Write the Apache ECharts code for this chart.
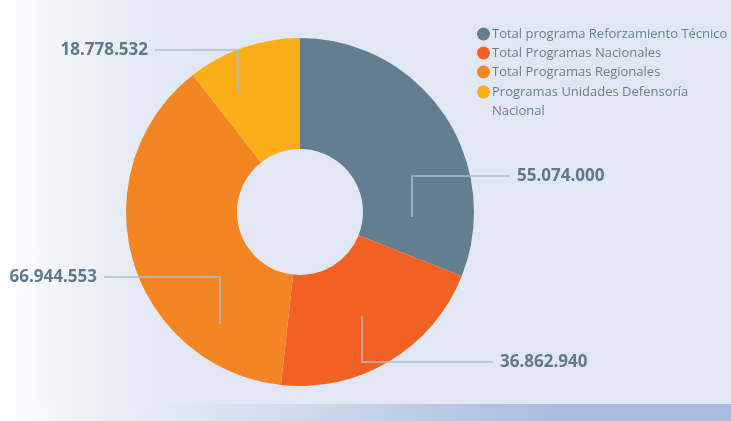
<!DOCTYPE html>
<html>
<head>
<meta charset="utf-8">
<script src="https://cdn.jsdelivr.net/npm/echarts@6/dist/echarts.min.js"></script>
<style>
  html, body { margin: 0; padding: 0; }
  body {
    width: 731px; height: 421px; overflow: hidden; position: relative;
    background: linear-gradient(to right, #ffffff 0px, #f3f6fa 50px, #e6ecf5 130px, #e1e8f3 210px, #e1e8f3 100%);
  }
  #band {
    position: absolute; left: 0; bottom: 0; width: 731px; height: 17px;
    background: linear-gradient(to right, #ffffff 0px, #eef2f8 80px, #d6e0ef 250px, #bccbe6 420px, #a9bde0 560px, #a9bde0 100%);
  }
  #chart { position: absolute; left: 0; top: 0; width: 731px; height: 421px; }
</style>
</head>
<body>
<div id="band"></div>
<div id="chart"></div>
<script>
// Budget distribution by programme group
const categories = [
  'Total programa Reforzamiento Técnico',
  'Total Programas Nacionales',
  'Total Programas Regionales',
  'Programas Unidades Defensoría\nNacional'
];
const values = [55074000, 36862940, 66944553, 18778532];
const valueLabels = ['55.074.000', '36.862.940', '66.944.553', '18.778.532'];
const colors = ['#637e8e', '#f26122', '#f38523', '#f9ae1a'];

// Callout placement for each slice: elbow x, inner y, label y, label edge x
const callouts = [
  { ex: 412, iy: 217, ly: 176, tx: 510, side: 'left' },
  { ex: 362, iy: 316, ly: 362, tx: 493, side: 'left' },
  { ex: 220, iy: 324, ly: 277, tx: 104, side: 'right' },
  { ex: 238, iy: 92,  ly: 50,  tx: 155, side: 'right' }
];

const pieData = categories.map((name, i) => ({ name, value: values[i] }));
const legendText = { fontFamily: 'Open Sans', fontSize: 13, lineHeight: 19, color: '#6b8090', padding: [0, 0, 0, -3] };
const legendBase = {
  orient: 'vertical',
  left: 477,
  icon: 'circle',
  itemWidth: 13,
  itemHeight: 13,
  itemGap: 0,
  padding: 0,
  selectedMode: false,
  textStyle: legendText
};

const chart = echarts.init(document.getElementById('chart'), null, { renderer: 'canvas' });

chart.setOption({
  animation: false,
  color: colors,
  legend: [
    Object.assign({}, legendBase, {
      top: 24.5,
      data: categories.slice(0, 3)
    }),
    // the wrapped entry keeps its marker beside the first line
    Object.assign({}, legendBase, {
      top: 63.5,
      formatter: name => '\n' + name,
      data: categories.slice(3)
    })
  ],
  series: [
    {
      type: 'pie',
      z: 2,
      center: [300, 212],
      radius: [63, 174],
      startAngle: 90,
      clockwise: true,
      itemStyle: { borderWidth: 0 },
      emphasis: { disabled: true },
      label: { show: false },
      labelLine: { show: false },
      data: pieData
    },
    {
      // transparent copy on top that carries the value callouts
      type: 'pie',
      z: 5,
      center: [300, 212],
      radius: [63, 174],
      startAngle: 90,
      clockwise: true,
      silent: true,
      avoidLabelOverlap: false,
      itemStyle: { color: 'rgba(0,0,0,0)', borderWidth: 0 },
      emphasis: { disabled: true },
      data: pieData,
      label: {
        show: true,
        position: 'outside',
        formatter: p => valueLabels[p.dataIndex],
        fontFamily: 'Open Sans',
        fontWeight: 'bold',
        fontSize: 17,
        color: '#62798a'
      },
      labelLine: {
        show: true,
        lineStyle: { color: '#aebdca', width: 1.5 }
      },
      labelLayout: p => {
        const c = callouts[p.dataIndex];
        return {
          x: c.side === 'left' ? c.tx + 7 : c.tx - 7,
          y: c.ly,
          align: c.side,
          verticalAlign: 'middle',
          labelLinePoints: [[c.ex, c.iy], [c.ex, c.ly], [c.tx, c.ly]]
        };
      }
    }
  ]
});
</script>
</body>
</html>
